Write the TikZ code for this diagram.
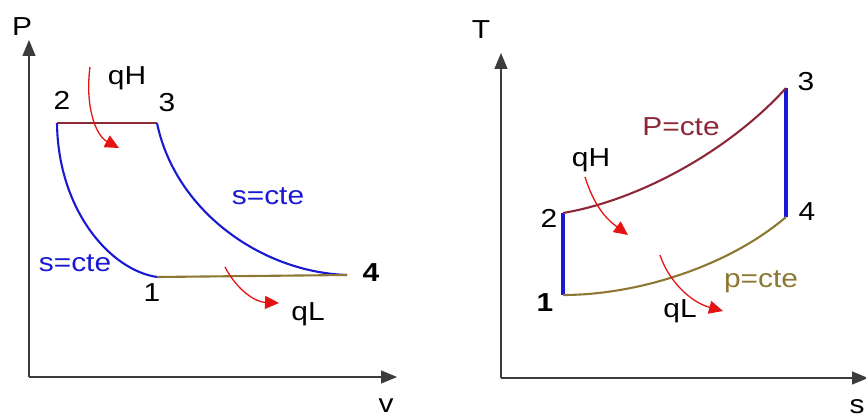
\documentclass[tikz,border=0pt]{standalone}
\usepackage{fontspec}
\setmainfont{Liberation Sans}
\newfontfamily\lblfont[FakeStretch=1.15]{Liberation Sans}
\usetikzlibrary{arrows.meta}
\definecolor{cblue}{RGB}{25,25,210}
\definecolor{cdred}{RGB}{140,40,55}
\definecolor{colive}{RGB}{140,120,50}
\definecolor{cred}{RGB}{228,20,20}
\definecolor{caxis}{RGB}{60,60,60}
\begin{document}
\begin{tikzpicture}[x=1pt,y=-1pt,
  lbl/.style={font=\lblfont\fontsize{26}{30}\selectfont, inner sep=0pt},
  axisline/.style={line width=1.3pt, draw=caxis, -{Triangle[length=16pt,width=13pt]}},
  heatarrow/.style={cred, line width=1.3pt, -{Triangle[length=14pt,width=13pt]}},
  isen/.style={cblue, line width=2.1pt},
  isenthick/.style={cblue, line width=3.8pt},
  hiP/.style={cdred, line width=2.1pt},
  loP/.style={colive, line width=2.1pt}]
\useasboundingbox (0,0) rectangle (866,419);
\fill[white] (0,0) rectangle (866,419);

% ---------- left: P-v diagram ----------
\coordinate (Lo) at (29,377);
\coordinate (Ltop) at (29,40);
\coordinate (Lright) at (397,377);
\draw[axisline] (Lo) -- (Ltop);
\draw[axisline] (Lo) -- (Lright);
\node[lbl] (LP) at (22,27) {P};
\node[lbl] (Lv) at (386,406) {v};

\coordinate (L2) at (57,123);
\coordinate (L3) at (157,123);
\coordinate (L1) at (157,277);
\coordinate (L4) at (347,275);
\draw[hiP] (L2) -- (L3);
\draw[isen] (L2) .. controls (58,210) and (110,270) .. (L1);
\draw[isen] (L3) .. controls (175,210) and (260,272) .. (L4);
\draw[loP] (L1) -- (L4);

\node[lbl] (Ln2) at (62,100) {2};
\node[lbl] (Ln3) at (167,103) {3};
\node[lbl] (Ln1) at (152,293) {1};
\node[lbl] (Ln4) at (371,273) {\bfseries 4};
\node[lbl] (LqH) at (127,78) {qH};
\node[lbl] (LqL) at (308,314) {qL};
\node[lbl, text=cblue] (Ls1) at (268,196) {s=cte};
\node[lbl, text=cblue] (Ls2) at (75,263) {s=cte};

\coordinate (LqHs) at (90,67);
\coordinate (LqHe) at (119,148);
\draw[heatarrow] (LqHs) .. controls (85,105) and (95,135) .. (LqHe);
\coordinate (LqLs) at (225,267);
\coordinate (LqLe) at (279,303);
\draw[heatarrow] (LqLs) .. controls (237,290) and (255,302) .. (LqLe);

% ---------- right: T-s diagram ----------
\coordinate (Ro) at (501,378);
\coordinate (Rtop) at (501,53);
\coordinate (Rright) at (868,378);
\draw[axisline] (Ro) -- (Rtop);
\draw[axisline] (Ro) -- (Rright);
\node[lbl] (RT) at (481,30) {T};
\node[lbl] (Rs) at (857,407) {s};

\coordinate (R2) at (563,213);
\coordinate (R1) at (563,295);
\coordinate (R3) at (786,88);
\coordinate (R4) at (786,217);
\draw[isenthick] (R1) -- (R2);
\draw[isenthick] (R3) -- (R4);
\draw[hiP] (R2) .. controls (640,200) and (730,150) .. (R3);
\draw[loP] (R1) .. controls (640,295) and (730,265) .. (R4);

\node[lbl] (Rn3) at (806,82) {3};
\node[lbl] (Rn4) at (807,212) {4};
\node[lbl] (Rn2) at (549,218) {2};
\node[lbl] (Rn1) at (545,303) {\bfseries 1};
\node[lbl, text=cdred] (RPc) at (681,127) {P=cte};
\node[lbl, text=colive] (Rpc) at (761,282) {p=cte};
\node[lbl] (RqH) at (591,160) {qH};
\node[lbl] (RqL) at (680,311) {qL};

\coordinate (RqHs) at (585,177);
\coordinate (RqHe) at (628,235);
\draw[heatarrow] (RqHs) .. controls (594,205) and (605,218) .. (RqHe);
\coordinate (RqLs) at (660,255);
\coordinate (RqLe) at (723,311);
\draw[heatarrow] (RqLs) .. controls (668,280) and (690,302) .. (RqLe);
\end{tikzpicture}
\end{document}
